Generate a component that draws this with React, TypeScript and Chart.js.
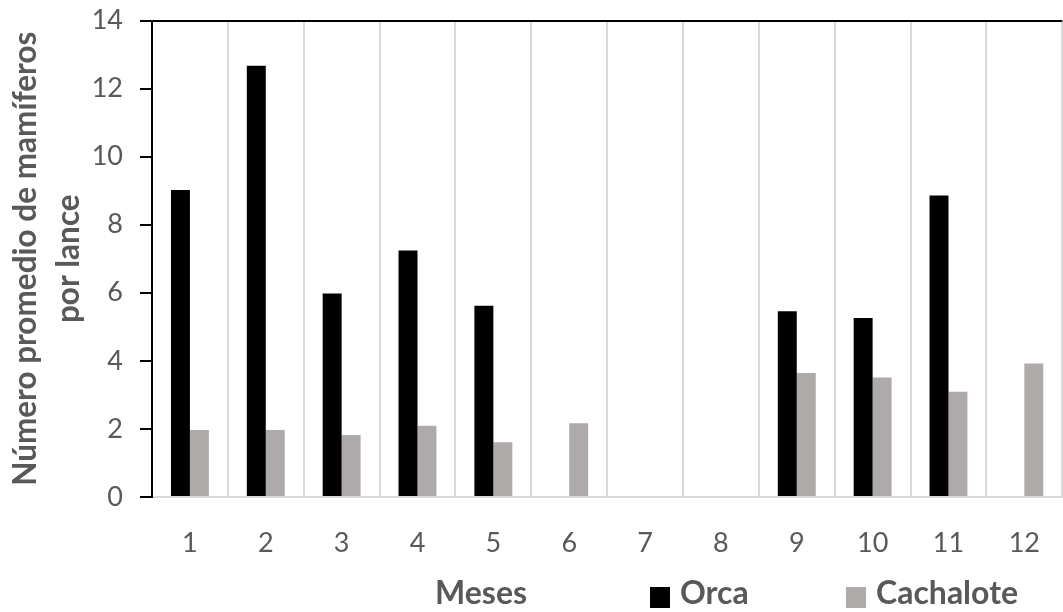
import React, { useEffect, useRef } from "react";
import { Chart, registerables } from "chart.js";

Chart.register(...registerables);

// ---- data ----
const months = ["1", "2", "3", "4", "5", "6", "7", "8", "9", "10", "11", "12"];
const orca = [9.02, 12.67, 5.98, 7.24, 5.62, null, null, null, 5.46, 5.26, 8.86, null];
const cachalote = [1.97, 1.97, 1.82, 2.09, 1.61, 2.17, null, null, 3.64, 3.51, 3.09, 3.92];
const seriesLabels = ["Orca", "Cachalote"];
const yMin = 0;
const yMax = 14;
const yStep = 2;
const xTitle = "Meses";
const yTitle = ["Número promedio de mamíferos", "por lance"];

// ---- styles ----
const FONT = "Lato";
const TEXT = "#595959";
const ORCA_COLOR = "#000000";
const CACH_COLOR = "#aeaaaa";
const GRID = "#d9d9d9";
const LEGEND_X = [650, 846];

const bottomLegend = {
  id: "bottomLegend",
  afterDraw(chart: any) {
    const ctx = chart.ctx;
    const a = chart.chartArea;
    const base = a.bottom + 107;
    ctx.save();
    ctx.font = `bold 32px ${FONT}`;
    ctx.textBaseline = "alphabetic";
    ctx.textAlign = "left";
    ctx.fillStyle = TEXT;
    ctx.fillText(xTitle, 435, base);
    chart.data.datasets.forEach((ds: any, i: number) => {
      const x = LEGEND_X[i];
      ctx.fillStyle = ds.backgroundColor;
      ctx.fillRect(x, base - 17, 20, 21);
      ctx.fillStyle = TEXT;
      ctx.fillText(ds.label, x + 30, base);
    });
    ctx.restore();
  },
};

export default function App() {
  const ref = useRef<HTMLCanvasElement | null>(null);

  useEffect(() => {
    if (!ref.current) return;
    const chart = new Chart(ref.current, {
      type: "bar",
      data: {
        labels: months,
        datasets: [
          {
            label: seriesLabels[0],
            data: orca,
            backgroundColor: ORCA_COLOR,
            borderWidth: 0,
            categoryPercentage: 0.5,
            barPercentage: 1,
          },
          {
            label: seriesLabels[1],
            data: cachalote,
            backgroundColor: CACH_COLOR,
            borderWidth: 0,
            categoryPercentage: 0.5,
            barPercentage: 1,
          },
        ],
      },
      options: {
        responsive: false,
        animation: false,
        devicePixelRatio: 1,
        layout: { padding: { top: 20.5, left: 0, right: 0, bottom: 0 } },
        plugins: {
          legend: { display: false },
          tooltip: { enabled: false },
        },
        scales: {
          x: {
            afterFit: (s: any) => {
              s.height = 115;
            },
            grid: {
              offset: true,
              drawTicks: false,
              color: (c: any) => (c.index === 0 ? "rgba(0,0,0,0)" : GRID),
              lineWidth: 2,
            },
            border: { display: true, color: GRID, width: 2 },
            ticks: {
              color: TEXT,
              font: { family: FONT, size: 27 },
              padding: 30,
            },
          },
          y: {
            min: yMin,
            max: yMax,
            afterFit: (s: any) => {
              s.width = 152;
              s.paddingTop = 0;
              s.paddingBottom = 0;
            },
            ticks: {
              stepSize: yStep,
              color: TEXT,
              font: { family: FONT, size: 27 },
              padding: 17,
            },
            grid: {
              color: (c: any) => (c.tick && c.tick.value === yMax ? "#000000" : "rgba(0,0,0,0)"),
              tickColor: "#000000",
              tickLength: 12,
              lineWidth: 2,
              drawTicks: true,
            },
            border: { display: true, color: "#000000", width: 2 },
            title: {
              display: true,
              text: yTitle,
              color: TEXT,
              font: { family: FONT, size: 31.5, weight: "bold", lineHeight: 1.35 },
              padding: { top: 5, bottom: 0 },
            },
          },
        },
      },
      plugins: [bottomLegend],
    });
    return () => chart.destroy();
  }, []);

  return (
    <div
      style={{
        position: "fixed",
        left: 0,
        top: 0,
        width: 1063,
        height: 612,
        overflow: "hidden",
        background: "#ffffff",
      }}
    >
      <canvas ref={ref} width={1070} height={612} style={{ display: "block" }} />
    </div>
  );
}
